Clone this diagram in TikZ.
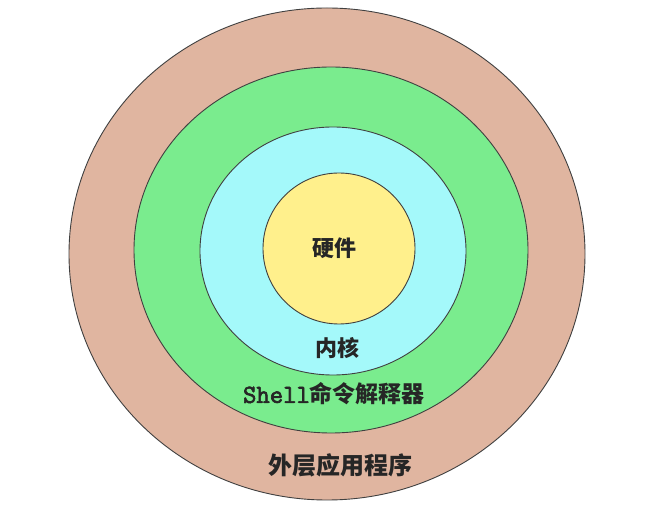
\documentclass[tikz,border=0pt]{standalone}
\usepackage{fontspec}
\newfontfamily\cjk{Noto Sans CJK SC}
\newfontfamily\shellfont[FakeBold=2.5]{Latin Modern Mono}
\definecolor{ringbrown}{RGB}{224,181,160}
\definecolor{ringgreen}{RGB}{122,236,142}
\definecolor{ringcyan}{RGB}{164,249,250}
\definecolor{ringyellow}{RGB}{255,240,140}
\begin{document}
\begin{tikzpicture}[x=1pt,y=-1pt,
  ring/.style={draw=black!75, line width=0.9pt},
  lbl/.style={font=\cjk\bfseries\fontsize{22}{22}\selectfont, inner sep=0pt, text=black!85}]
\useasboundingbox (0,0) rectangle (654,526);
\fill[white] (0,0) rectangle (654,526);
\filldraw[ring, fill=ringbrown] (327,254) ellipse [x radius=258, y radius=246];
\filldraw[ring, fill=ringgreen] (331,250) ellipse [x radius=197, y radius=183];
\filldraw[ring, fill=ringcyan] (333,251) ellipse [x radius=133, y radius=124];
\filldraw[ring, fill=ringyellow] (339,248.5) ellipse [x radius=76, y radius=75.5];
\node[lbl] (hw) at (334,248) {硬件};
\node[lbl] (kernel) at (337,348) {内核};
\node[lbl, font=\cjk\bfseries\fontsize{23}{23}\selectfont] (shell) at (334,394) {{\shellfont\fontsize{26}{26}\selectfont Shell}命令解释器};
\node[lbl, font=\cjk\bfseries\fontsize{24}{24}\selectfont] (apps) at (340,465) {外层应用程序};
\end{tikzpicture}
\end{document}
